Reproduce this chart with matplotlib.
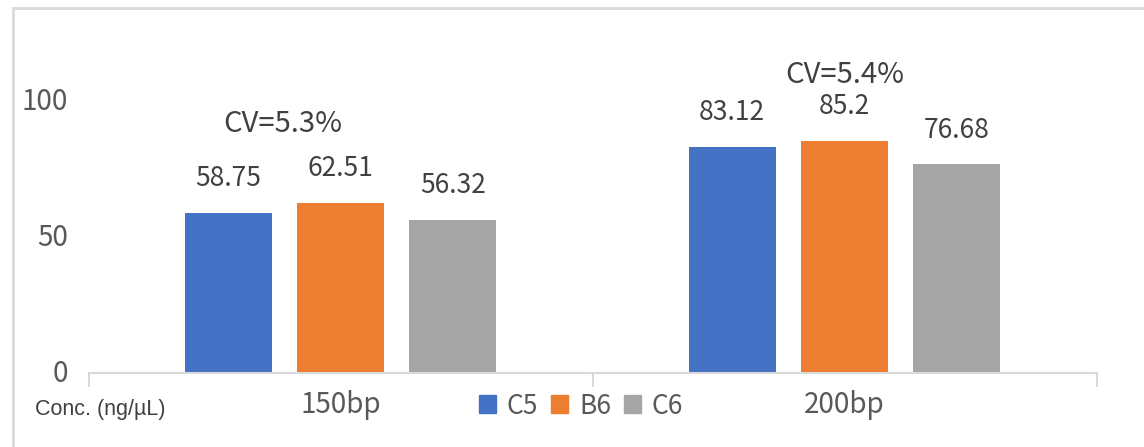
import matplotlib.pyplot as plt
import matplotlib.patches as mpatches
import matplotlib.transforms as mtransforms
import numpy as np

plt.rcParams['font.family'] = ['Noto Sans CJK SC', 'DejaVu Sans']

# measured concentrations per fragment size
groups = ['150bp', '200bp']
samples = ['C5', 'B6', 'C6']
c5 = [58.75, 83.12]
b6 = [62.51, 85.2]
c6 = [56.32, 76.68]
cv_labels = ['CV=5.3%', 'CV=5.4%']
y_ticks = [0, 50, 100]

colors = ['#4472C4', '#ED7D31', '#A5A5A5']
grid_col = '#D9D9D9'

fig = plt.figure(figsize=(11.44, 4.47), dpi=100)
ax = fig.add_axes([88.5 / 1144, 74 / 447, 1008 / 1144, 326.4 / 447])

x = np.arange(len(groups))
offset = 0.223
width = 0.173
series = [c5, b6, c6]
for i, (vals, col) in enumerate(zip(series, colors)):
    bars = ax.bar(x + (i - 1) * offset, vals, width, color=col, label=samples[i])
    for rect, v in zip(bars, vals):
        ax.annotate('{:g}'.format(v), (rect.get_x() + rect.get_width() / 2, v),
                    xytext=(0, 15), textcoords='offset points', ha='center',
                    va='bottom', fontsize=19, color='#404040')

# CV text above each group
cv_y = [max(c5[0], b6[0], c6[0]), max(c5[1], b6[1], c6[1])]
ax.annotate(cv_labels[0], (x[0] - 0.115, cv_y[0]), xytext=(0, 46),
            textcoords='offset points', ha='center', va='bottom',
            fontsize=21, color='#404040')
ax.annotate(cv_labels[1], (x[1], cv_y[1]), xytext=(0, 37),
            textcoords='offset points', ha='center', va='bottom',
            fontsize=21, color='#404040')

ax.set_xlim(-0.5, 1.5)
ax.set_ylim(0, 120)
ax.set_yticks(y_ticks)
ax.tick_params(axis='y', length=0, labelsize=20, labelcolor='#595959', pad=15)
shift_up = mtransforms.ScaledTranslation(0, 2.5 / 100, fig.dpi_scale_trans)
for lbl in ax.get_yticklabels():
    lbl.set_transform(lbl.get_transform() + shift_up)

ax.set_xticks([-0.5, 0.5, 1.5])
ax.set_xticklabels([])
ax.tick_params(axis='x', which='major', length=10, width=1.5, color=grid_col)
ax.set_xticks(x, minor=True)
ax.set_xticklabels(groups, minor=True)
ax.tick_params(axis='x', which='minor', length=0, labelsize=20,
               labelcolor='#595959', pad=12)

for s in ['top', 'right', 'left']:
    ax.spines[s].set_visible(False)
ax.spines['bottom'].set_color(grid_col)
ax.spines['bottom'].set_linewidth(1.5)

fig.text(35 / 1144, 1 - 409 / 447, 'Conc. (ng/\u00b5L)', family='Liberation Sans',
         fontsize=15.5, color='#404040', ha='left', va='center')

handles = [mpatches.Patch(color=c) for c in colors]
fig.legend(handles, samples, loc='center', bbox_to_anchor=(0.508, 1 - 406 / 447),
           ncol=3, frameon=False, fontsize=19, handlelength=0.65, handleheight=0.65,
           handletextpad=0.4, columnspacing=0.5, labelcolor='#595959')

# chart area border (runs off the right and bottom edges)
fig.patches.append(mpatches.Rectangle((13 / 1144, -0.2), 1.2, 1 - 8 / 447 + 0.2,
                                      transform=fig.transFigure, fill=False,
                                      edgecolor=grid_col, linewidth=2))

fig.savefig('out.png', dpi=100)
